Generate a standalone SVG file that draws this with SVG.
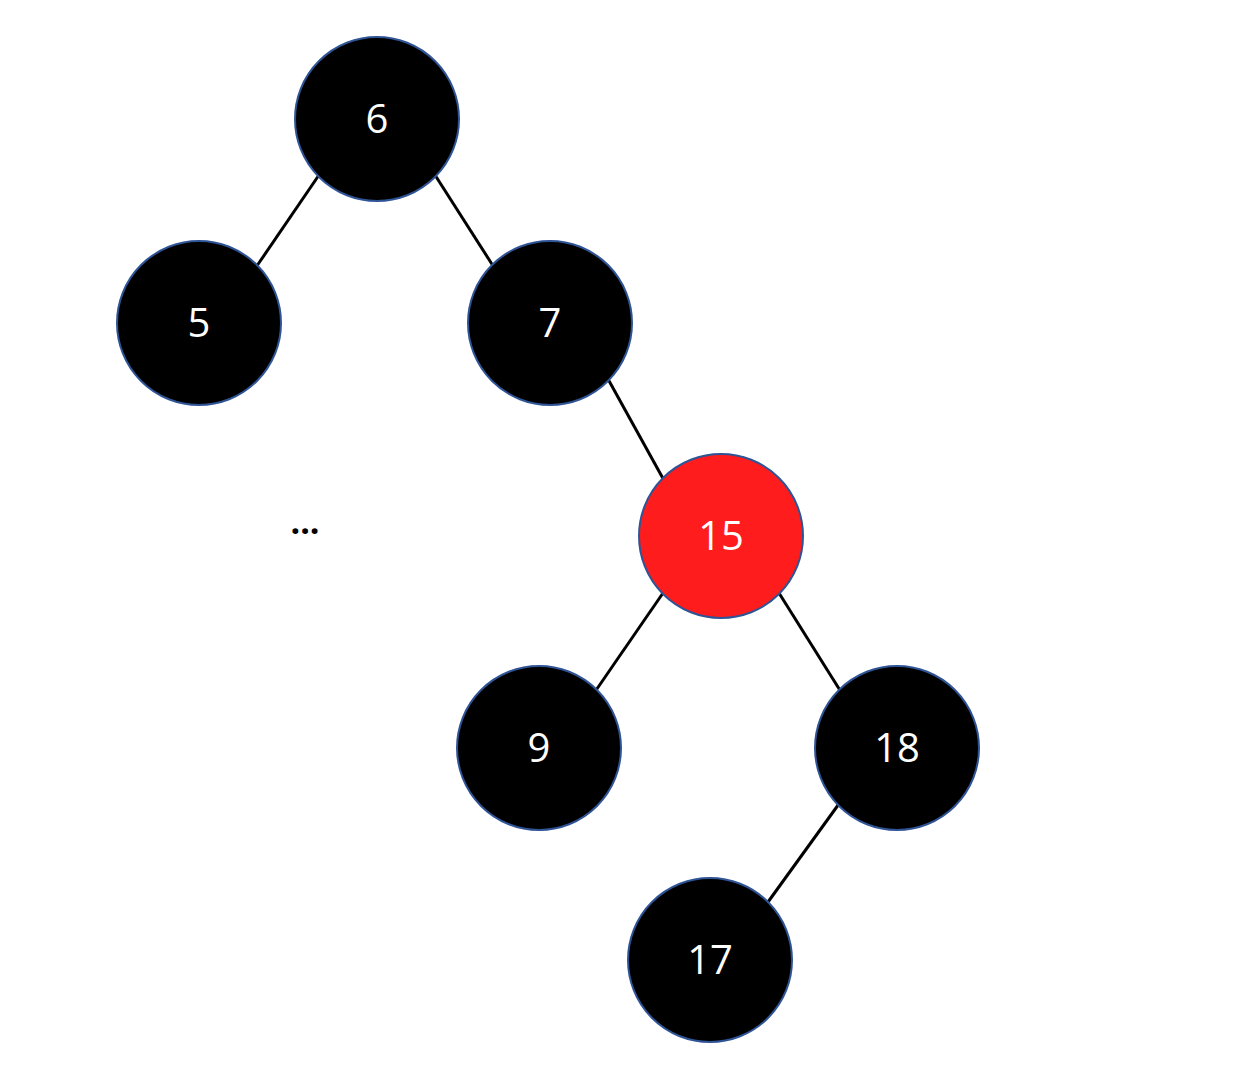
<svg xmlns="http://www.w3.org/2000/svg" width="1252" height="1090" viewBox="0 0 1252 1090">
<style>
.n{stroke:#2F5496;stroke-width:2}
.b{fill:#000}
.r{fill:#FF1C1C}
.t{font-family:"Open Sans","Liberation Sans",sans-serif;font-size:40px;fill:#fff;text-anchor:middle}
.e{stroke:#000;stroke-width:3;fill:none}
</style>
<rect width="1252" height="1090" fill="#fff"/>
<g id="edges">
<line class="e" x1="319" y1="175" x2="256.5" y2="266.5"/>
<line class="e" x1="435" y1="175" x2="492.5" y2="265"/>
<line class="e" x1="608" y1="379" x2="663" y2="478.5"/>
<line class="e" x1="663" y1="593" x2="596.5" y2="689.5"/>
<line class="e" x1="779" y1="593" x2="839.5" y2="689.5"/>
<line class="e" x1="838.5" y1="804.5" x2="768" y2="902"/>
</g>
<g id="n6"><circle class="n b" cx="377" cy="119" r="82"/><text class="t" x="377" y="133">6</text></g>
<g id="n5"><circle class="n b" cx="199" cy="323" r="82"/><text class="t" x="199" y="337">5</text></g>
<g id="n7"><circle class="n b" cx="550" cy="323" r="82"/><text class="t" x="550" y="337">7</text></g>
<g id="n15"><circle class="n r" cx="721" cy="536" r="82"/><text class="t" x="721" y="550">15</text></g>
<g id="n9"><circle class="n b" cx="539" cy="748" r="82"/><text class="t" x="539" y="762">9</text></g>
<g id="n18"><circle class="n b" cx="897" cy="748" r="82"/><text class="t" x="897" y="762">18</text></g>
<g id="n17"><circle class="n b" cx="710" cy="960" r="82"/><text class="t" x="710" y="974">17</text></g>
<text x="305" y="534" font-family="Open Sans, Liberation Sans, sans-serif" font-size="34" font-weight="bold" text-anchor="middle" fill="#000">...</text>
</svg>
